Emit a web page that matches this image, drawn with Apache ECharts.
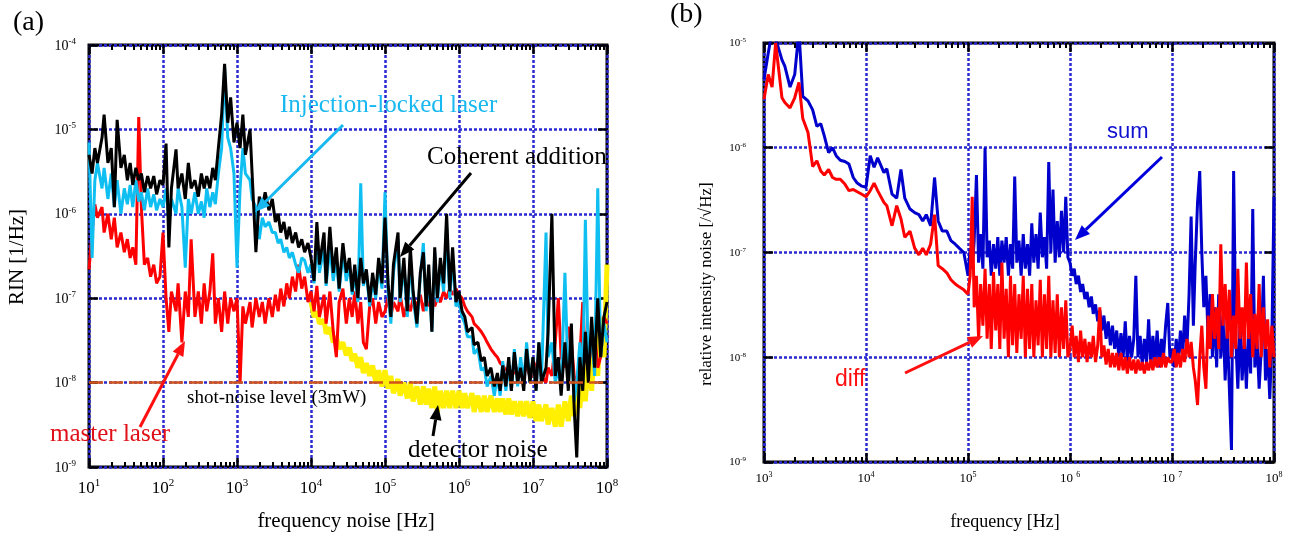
<!DOCTYPE html>
<html>
<head>
<meta charset="utf-8">
<title>RIN spectra</title>
<script src="https://cdn.jsdelivr.net/npm/echarts@6/dist/echarts.min.js"></script>
<style>
  html, body { margin: 0; padding: 0; background: #fff; }
  #chart { width: 1292px; height: 535px; }
</style>
</head>
<body>
<div id="chart"></div>
<script>
// ---- panel (a) : RIN, one decade per row ----
const freqA = [
  10, 11, 12, 13, 15, 16, 18, 20, 22, 24, 27, 30, 33, 36, 39, 43, 47, 51, 56, 62, 68, 75, 82, 91,
  100, 110, 120, 130, 150, 160, 180, 200, 220, 240, 270, 300, 330, 360, 390, 430, 470, 510, 560, 620, 680, 750, 820, 910,
  1e3, 1.1e3, 1.2e3, 1.3e3, 1.5e3, 1.6e3, 1.8e3, 2e3, 2.2e3, 2.4e3, 2.7e3, 3e3, 3.3e3, 3.6e3, 3.9e3, 4.3e3, 4.7e3, 5.1e3, 5.6e3, 6.2e3, 6.8e3, 7.5e3, 8.2e3, 9.1e3,
  1e4, 1.1e4, 1.2e4, 1.3e4, 1.5e4, 1.6e4, 1.8e4, 2e4, 2.2e4, 2.4e4, 2.7e4, 3e4, 3.3e4, 3.6e4, 3.9e4, 4.3e4, 4.7e4, 5.1e4, 5.6e4, 6.2e4, 6.8e4, 7.5e4, 8.2e4, 9.1e4,
  1e5, 1.1e5, 1.2e5, 1.3e5, 1.5e5, 1.6e5, 1.8e5, 2e5, 2.2e5, 2.4e5, 2.7e5, 3e5, 3.3e5, 3.6e5, 3.9e5, 4.3e5, 4.7e5, 5.1e5, 5.6e5, 6.2e5, 6.8e5, 7.5e5, 8.2e5, 9.1e5,
  1e6, 1.1e6, 1.2e6, 1.3e6, 1.5e6, 1.6e6, 1.8e6, 2e6, 2.2e6, 2.4e6, 2.7e6, 3e6, 3.3e6, 3.6e6, 3.9e6, 4.3e6, 4.7e6, 5.1e6, 5.6e6, 6.2e6, 6.8e6, 7.5e6, 8.2e6, 9.1e6,
  1e7, 1.1e7, 1.2e7, 1.3e7, 1.5e7, 1.6e7, 1.8e7, 2e7, 2.2e7, 2.4e7, 2.7e7, 3e7, 3.3e7, 3.6e7, 3.9e7, 4.3e7, 4.7e7, 5.1e7, 5.6e7, 6.2e7, 6.8e7, 7.5e7, 8.2e7, 9.1e7,
  1e8
];
const coherent = [
  5e-6, 3e-6, 6e-6, 4e-6, 8e-6, 1.5e-5, 4e-6, 6e-6, 1.2e-6, 1.3e-5, 3.5e-6, 5e-6, 2.5e-6, 4e-6, 2.2e-6, 3.5e-6, 2.5e-6, 3e-6, 1.8e-6, 2.8e-6, 2e-6, 2.8e-6, 1.7e-6, 2.5e-6,
  2.2e-6, 6.8e-6, 4e-7, 2e-6, 5.8e-6, 2e-6, 3e-6, 1.5e-6, 4e-6, 2e-6, 2.5e-6, 1.6e-6, 3e-6, 2e-6, 2.8e-6, 2e-6, 3.5e-6, 2.5e-6, 6e-6, 1.5e-5, 6e-5, 1.2e-5, 2.4e-5, 7e-6,
  1.2e-5, 6e-6, 1.5e-5, 5e-6, 1e-5, 3e-6, 3.5e-7, 1.6e-6, 1.2e-6, 1.8e-6, 1.1e-6, 1.5e-6, 8e-7, 1e-6, 6e-7, 8e-7, 5e-7, 7e-7, 4.5e-7, 6e-7, 4e-7, 5e-7, 3.5e-7, 4.5e-7,
  3e-7, 1.6e-7, 8e-7, 2.5e-7, 6e-7, 1.5e-7, 7e-7, 2e-7, 4e-7, 1.3e-7, 4.5e-7, 2e-7, 3e-7, 1.2e-7, 2.5e-7, 1e-7, 3e-7, 1.5e-7, 2.2e-7, 9e-8, 2e-7, 1.1e-7, 3e-7, 1.5e-7,
  9e-7, 1.5e-7, 6e-8, 2.5e-7, 6e-7, 1e-7, 3e-7, 7e-8, 4e-7, 1.2e-7, 5e-8, 2e-7, 3.5e-7, 8e-8, 2.5e-7, 4e-8, 4e-7, 1e-7, 3e-7, 1.5e-7, 1e-6, 1.2e-7, 4e-7, 9e-8,
  1.2e-7, 7e-8, 6e-8, 4e-8, 4.5e-8, 2.8e-8, 3e-8, 1.8e-8, 2e-8, 1.2e-8, 1.5e-8, 9e-9, 1.3e-8, 8e-9, 1.6e-8, 9e-9, 2e-8, 8e-9, 2.3e-8, 1e-8, 1.5e-8, 8e-9, 2.5e-8, 1e-8,
  2e-8, 8e-9, 3e-8, 1e-8, 1.5e-8, 4e-8, 1e-6, 1.2e-8, 2e-8, 7e-9, 3e-8, 8e-9, 5e-8, 5e-9, 1.3e-9, 2e-8, 8e-9, 4e-8, 1e-8, 6e-8, 1.5e-8, 1e-7, 2e-8, 6e-8,
  9e-8
];
const injection = [
  7e-6, 3e-7, 2.5e-6, 4e-6, 2e-6, 3.5e-6, 1.5e-6, 3e-6, 1.2e-6, 2.5e-6, 1e-6, 2e-6, 1.3e-6, 2.2e-6, 1.2e-6, 2.5e-6, 1.4e-6, 1.8e-6, 1.1e-6, 2e-6, 1.2e-6, 1.7e-6, 1.1e-6, 1.5e-6,
  1.2e-6, 2e-6, 8e-7, 1.5e-6, 1e-6, 2e-6, 1.2e-6, 2.3e-7, 1.5e-6, 1e-6, 1.8e-6, 1e-6, 1.4e-6, 9e-7, 2e-6, 1.2e-6, 1.8e-6, 1.3e-6, 3e-6, 6e-6, 5.5e-5, 8e-6, 6e-6, 3e-6,
  2.3e-7, 2e-6, 6e-6, 3e-6, 2.5e-6, 1.5e-6, 1.2e-6, 5e-7, 9e-7, 7e-7, 8e-7, 6e-7, 6e-7, 4.5e-7, 5e-7, 3.5e-7, 4e-7, 3e-7, 3.5e-7, 2.5e-7, 2e-7, 3e-7, 2.8e-7, 2e-7,
  2.5e-7, 1.5e-7, 5e-7, 2e-7, 4e-7, 1.4e-7, 4e-7, 1.6e-7, 3e-7, 1.2e-7, 3.5e-7, 1.6e-7, 2.5e-7, 1.1e-7, 2e-7, 9e-8, 2.3e-6, 1.4e-7, 2e-7, 8e-8, 1.6e-7, 1e-7, 2.5e-7, 1.3e-7,
  1.8e-6, 1.2e-7, 5e-8, 2e-7, 5e-7, 9e-8, 2.5e-7, 6e-8, 3e-7, 1e-7, 4.5e-8, 1.8e-7, 4.5e-7, 7e-8, 2e-7, 4e-8, 3.5e-7, 9e-8, 2.5e-7, 1.2e-7, 7e-7, 1e-7, 3e-7, 8e-8,
  9e-8, 6e-8, 5e-8, 3.5e-8, 3.5e-8, 2.2e-8, 2.5e-8, 1.4e-8, 1.5e-8, 9e-9, 1.2e-8, 7e-9, 1.2e-8, 7e-9, 1.8e-8, 8e-9, 1.6e-8, 8e-9, 2.5e-8, 9e-9, 2e-8, 1e-8, 3e-8, 1e-8,
  2e-8, 8e-9, 3e-8, 1e-8, 6e-7, 2e-8, 3e-8, 1e-8, 1.5e-8, 8e-9, 2e-7, 1e-8, 2.5e-8, 6e-9, 1e-8, 3e-8, 1e-8, 8.5e-7, 1.5e-8, 4e-8, 1.2e-8, 2e-6, 2e-8, 5e-8,
  3e-8
];
const master = [
  2.2e-7, 6e-7, 1.3e-6, 9e-7, 1.2e-6, 6e-7, 1e-6, 5e-7, 9e-7, 4e-7, 6e-7, 3.5e-7, 5e-7, 3e-7, 4e-7, 2.5e-7, 1.4e-5, 1.2e-6, 2.5e-7, 3e-7, 1.8e-7, 2.5e-7, 1.5e-7, 1.8e-7,
  6e-7, 1e-7, 4e-8, 1.2e-7, 7e-8, 1.5e-7, 3e-8, 1.2e-7, 6e-8, 5e-7, 6e-8, 1.2e-7, 5e-8, 1.5e-7, 7e-8, 1.2e-7, 3.4e-7, 5e-8, 1e-7, 4e-8, 1.2e-7, 5e-8, 1e-7, 7e-8,
  1e-7, 1e-8, 8e-8, 5e-8, 9e-8, 4.5e-8, 1e-7, 6e-8, 9e-8, 5e-8, 1e-7, 6e-8, 1.1e-7, 7e-8, 1.3e-7, 8e-8, 1.5e-7, 1e-7, 1.8e-7, 1.2e-7, 2.5e-7, 1.3e-7, 1.8e-7, 9e-8,
  1.2e-7, 7e-8, 1.4e-7, 6e-8, 1.1e-7, 5e-8, 1.2e-7, 4e-8, 2e-8, 9e-8, 1.3e-7, 5e-8, 1e-7, 6e-8, 1.2e-7, 5e-8, 9e-8, 3e-8, 2.5e-8, 8e-8, 1e-7, 5e-8, 9e-8, 6e-8,
  7e-8, 1e-7, 6e-8, 9e-8, 7e-8, 1.1e-7, 6e-8, 9e-8, 7e-8, 1e-7, 8e-8, 1.1e-7, 7e-8, 1e-7, 8e-8, 1.1e-7, 8e-8, 1e-7, 9e-8, 1.2e-7, 1e-7, 1.3e-7, 1.1e-7, 1.3e-7,
  1.1e-7, 1e-7, 8e-8, 7e-8, 6e-8, 5e-8, 4.5e-8, 4e-8, 3.5e-8, 3e-8, 2.5e-8, 2.2e-8, 2e-8, 1.7e-8, 1.6e-8, 1.4e-8, 1.5e-8, 1.3e-8, 1.3e-8, 1.5e-8, 1.2e-8, 1.4e-8, 1.5e-8, 1.2e-8,
  1.2e-8, 1.6e-8, 2e-8, 1.2e-8, 1e-8, 1.5e-8, 1.2e-8, 3e-8, 1e-7, 2e-8, 1.5e-8, 4.6e-8, 3e-8, 1.2e-8, 1e-8, 2e-8, 9e-8, 2e-8, 1.5e-8, 3e-8, 4e-8, 1.5e-8, 2e-8, 6e-8,
  5e-8
];
// detector noise starts at 10 kHz (freqA index 72)
const detector = [
  9e-8, 6e-8, 7e-8, 5e-8, 5.5e-8, 3.8e-8, 4.5e-8, 3e-8, 3.5e-8, 2.5e-8, 3e-8, 2.1e-8, 2.6e-8, 1.8e-8, 2.2e-8, 1.5e-8, 2e-8, 1.3e-8, 1.7e-8, 1.2e-8, 1.6e-8, 1e-8, 1.4e-8, 9e-9,
  1.4e-8, 8.5e-9, 1.2e-8, 7.5e-9, 1.1e-8, 7e-9, 1e-8, 6.5e-9, 1e-8, 6e-9, 9e-9, 5.5e-9, 9e-9, 5.5e-9, 8.5e-9, 5e-9, 9e-9, 4.5e-9, 8e-9, 5e-9, 8e-9, 5e-9, 8e-9, 5e-9,
  8e-9, 5e-9, 7.5e-9, 5e-9, 7.5e-9, 4.5e-9, 7e-9, 4.5e-9, 7e-9, 4.5e-9, 7e-9, 4.5e-9, 6.5e-9, 4.5e-9, 6.5e-9, 4.2e-9, 6.5e-9, 4.2e-9, 6e-9, 4e-9, 6e-9, 4e-9, 6e-9, 3.8e-9,
  6e-9, 3.5e-9, 5.5e-9, 3.5e-9, 5.5e-9, 3.2e-9, 5e-9, 3e-9, 5.5e-9, 3e-9, 6e-9, 3.5e-9, 7e-9, 4e-9, 9e-9, 5e-9, 1.5e-8, 6e-9, 2e-8, 8e-9, 3e-8, 1.2e-8, 6e-8, 2e-8,
  2.5e-7
];
const shotNoise = [[10, 1e-8], [1e8, 1e-8]];

// ---- panel (b) : relative intensity noise ----
const freqB = [
  1e3, 1.1e3, 1.2e3, 1.3e3, 1.5e3, 1.6e3, 1.8e3, 2e3, 2.2e3, 2.4e3, 2.7e3, 3e3, 3.3e3, 3.6e3, 3.9e3, 4.3e3, 4.7e3, 5.1e3, 5.6e3, 6.2e3, 6.8e3, 7.5e3, 8.2e3, 9.1e3,
  1e4, 1.1e4, 1.2e4, 1.3e4, 1.5e4, 1.6e4, 1.8e4, 2e4, 2.2e4, 2.4e4, 2.7e4, 3e4, 3.3e4, 3.6e4, 3.9e4, 4.3e4, 4.7e4, 5.1e4, 5.6e4, 6.2e4, 6.8e4, 7.5e4, 8.2e4, 9.1e4,
  1e5, 1.05e5, 1.1e5, 1.15e5, 1.21e5, 1.27e5, 1.33e5, 1.4e5, 1.47e5, 1.54e5, 1.62e5, 1.69e5,
  1.78e5, 1.87e5, 1.96e5, 2.05e5, 2.15e5, 2.26e5, 2.37e5, 2.49e5, 2.61e5, 2.74e5, 2.87e5, 3.01e5,
  3.16e5, 3.32e5, 3.48e5, 3.65e5, 3.83e5, 4.02e5, 4.22e5, 4.42e5, 4.64e5, 4.87e5, 5.11e5, 5.36e5,
  5.62e5, 5.9e5, 6.19e5, 6.49e5, 6.81e5, 7.15e5, 7.5e5, 7.87e5, 8.25e5, 8.66e5, 9.09e5, 9.53e5,
  1e6, 1.05e6, 1.1e6, 1.15e6, 1.21e6, 1.27e6, 1.33e6, 1.4e6, 1.47e6, 1.54e6, 1.62e6, 1.69e6,
  1.78e6, 1.87e6, 1.96e6, 2.05e6, 2.15e6, 2.26e6, 2.37e6, 2.49e6, 2.61e6, 2.74e6, 2.87e6, 3.01e6,
  3.16e6, 3.32e6, 3.48e6, 3.65e6, 3.83e6, 4.02e6, 4.22e6, 4.42e6, 4.64e6, 4.87e6, 5.11e6, 5.36e6,
  5.62e6, 5.9e6, 6.19e6, 6.49e6, 6.81e6, 7.15e6, 7.5e6, 7.87e6, 8.25e6, 8.66e6, 9.09e6, 9.53e6,
  1e7, 1.05e7, 1.1e7, 1.15e7, 1.21e7, 1.27e7, 1.33e7, 1.4e7, 1.47e7, 1.54e7, 1.62e7, 1.69e7,
  1.78e7, 1.87e7, 1.96e7, 2.05e7, 2.15e7, 2.26e7, 2.37e7, 2.49e7, 2.61e7, 2.74e7, 2.87e7, 3.01e7,
  3.16e7, 3.32e7, 3.48e7, 3.65e7, 3.83e7, 4.02e7, 4.22e7, 4.42e7, 4.64e7, 4.87e7, 5.11e7, 5.36e7,
  5.62e7, 5.9e7, 6.19e7, 6.49e7, 6.81e7, 7.15e7, 7.5e7, 7.87e7, 8.25e7, 8.66e7, 9.09e7, 9.53e7,
  1e8
];
const sum = [
  4.5e-6, 8e-6, 1.3e-5, 1.1e-5, 6.9e-6, 6e-6, 3.8e-6, 5e-6, 1.3e-5, 3.1e-6, 2.8e-6, 2.3e-6, 1.6e-6, 1.7e-6, 1.3e-6, 9e-7, 1e-6, 8.4e-7, 7.6e-7, 7.4e-7, 7e-7, 5.2e-7, 4.6e-7, 4.3e-7,
  4.2e-7, 8.4e-7, 6.5e-7, 8e-7, 5.8e-7, 6.3e-7, 3.6e-7, 3.3e-7, 6.2e-7, 3.3e-7, 2.6e-7, 2.4e-7, 2.3e-7, 2e-7, 2.3e-7, 1.8e-7, 5.2e-7, 2e-7, 1.6e-7, 1.6e-7, 1.3e-7, 1.2e-7, 1.1e-7, 1e-7,
  6e-8, 1.1e-7, 7e-8, 1.3e-7, 5.5e-7, 8e-8, 1.5e-7, 7e-8, 1e-6, 9e-8, 1.3e-7, 6e-8,
  1.2e-7, 7e-8, 1.4e-7, 6e-8, 1.3e-7, 8e-8, 1.4e-7, 6e-8, 1.2e-7, 7e-8, 5.3e-7, 8e-8,
  1.3e-7, 6e-8, 1.5e-7, 7e-8, 1.2e-7, 6e-8, 1.9e-7, 8e-8, 1.5e-7, 7e-8, 2.4e-7, 9e-8,
  1.4e-7, 7e-8, 7.3e-7, 1e-7, 4e-7, 8e-8, 2e-7, 9e-8, 2.5e-7, 1e-7, 3.4e-7, 9e-8,
  8e-8, 6e-8, 7e-8, 5e-8, 6e-8, 4.2e-8, 5e-8, 3.6e-8, 4.2e-8, 3e-8, 3.8e-8, 2.6e-8,
  3.2e-8, 2.2e-8, 2.8e-8, 1.8e-8, 2.5e-8, 1.5e-8, 2.2e-8, 1.3e-8, 2e-8, 1.2e-8, 1.8e-8, 1e-8,
  1.7e-8, 1e-8, 2.2e-8, 9e-9, 1.6e-8, 1e-8, 1.5e-8, 6e-8, 1e-8, 1.6e-8, 8.5e-9, 1.5e-8,
  9e-9, 2.3e-8, 8e-9, 1.6e-8, 9e-9, 1.8e-8, 8e-9, 1.5e-8, 1e-8, 2e-8, 3.3e-8, 1e-8,
  1.2e-8, 8e-9, 1.5e-8, 9e-9, 1.8e-8, 1e-8, 2.5e-8, 1.2e-8, 4e-8, 2.2e-7, 2e-8, 8e-8,
  3e-7, 6e-7, 1e-7, 3e-8, 6e-8, 1.5e-8, 4e-8, 1e-8, 3e-8, 8e-9, 4e-8, 1e-8,
  2.5e-8, 6e-9, 2e-8, 5e-9, 1.3e-9, 6e-7, 1.5e-8, 5e-9, 2e-8, 6e-9, 1.5e-8, 5e-9,
  1.8e-8, 7e-9, 2.6e-7, 8e-9, 1.5e-8, 5e-9, 1.2e-8, 6e-8, 6e-9, 1.2e-8, 4e-9, 1.5e-8,
  3.4e-7
];
const diff = [
  2.9e-6, 5e-6, 3.8e-6, 1e-5, 3e-6, 2.7e-6, 2.4e-6, 3e-6, 4.2e-6, 1.9e-6, 1.4e-6, 6.6e-7, 7.5e-7, 6e-7, 5.5e-7, 6.2e-7, 5.2e-7, 5e-7, 5e-7, 4.5e-7, 3.9e-7, 4e-7, 3.8e-7, 3.6e-7,
  3.4e-7, 3.9e-7, 4.6e-7, 3.9e-7, 3e-7, 2.8e-7, 1.8e-7, 2.8e-7, 2.1e-7, 1.4e-7, 1.6e-7, 1.1e-7, 9.5e-8, 1.1e-7, 9.5e-8, 1.2e-7, 2.3e-7, 7.5e-8, 7e-8, 6.4e-8, 5.5e-8, 5e-8, 4.7e-8, 4.4e-8,
  4e-8, 6e-8, 3.4e-7, 3e-8, 6e-8, 1.5e-8, 5e-8, 2e-8, 7e-8, 1.5e-8, 5e-8, 1.2e-8,
  6.5e-8, 1.8e-8, 5e-8, 1.2e-8, 8e-8, 1.5e-8, 4.5e-8, 1e-8, 6e-8, 1.3e-8, 5e-8, 1.1e-8,
  4e-8, 1.5e-8, 6e-8, 1e-8, 4.5e-8, 1.2e-8, 5e-8, 1e-8, 3.5e-8, 1.3e-8, 5.5e-8, 1e-8,
  4e-8, 1.2e-8, 6e-8, 1e-8, 3.5e-8, 1.1e-8, 4e-8, 1e-8, 3e-8, 1.2e-8, 3.5e-8, 1e-8,
  1.2e-8, 2e-8, 1e-8, 1.6e-8, 9e-9, 1.8e-8, 1e-8, 1.5e-8, 9e-9, 1.4e-8, 1e-8, 1.6e-8,
  9e-9, 1.3e-8, 3e-8, 1e-8, 1.3e-8, 8.5e-9, 1.2e-8, 8e-9, 1.1e-8, 8e-9, 1.1e-8, 7.5e-9,
  1.1e-8, 7.5e-9, 1e-8, 7e-9, 1e-8, 7.5e-9, 9.5e-9, 7e-9, 9.5e-9, 7.5e-9, 9e-9, 7e-9,
  9e-9, 7.5e-9, 9.5e-9, 7.5e-9, 1e-8, 8e-9, 1e-8, 8e-9, 1.1e-8, 8e-9, 1e-8, 9e-9,
  9e-9, 1.2e-8, 8e-9, 1.1e-8, 8e-9, 1.2e-8, 9e-9, 1.5e-8, 1e-8, 1.4e-8, 8e-9, 6e-9,
  3.5e-9, 1e-8, 2e-8, 8e-9, 5e-9, 2.5e-8, 1.2e-8, 4e-8, 1.5e-8, 3e-8, 1.2e-8, 1.2e-7,
  2e-8, 5e-8, 1.5e-8, 4.4e-8, 1e-8, 2.5e-8, 1.2e-8, 7e-8, 1.5e-8, 3e-8, 1.2e-8, 8e-8,
  1.5e-8, 4e-8, 1e-8, 2.6e-8, 1.2e-8, 5e-8, 1e-8, 3e-8, 1.2e-8, 2.3e-8, 8e-9, 2e-8,
  1e-8
];

const serif = '"Liberation Serif", "Times New Roman", serif';
const sans = '"Liberation Sans", Arial, sans-serif';
const gridBlue = '#2a2ad2';

function pairs(freq, vals) {
  return vals.map((v, i) => [freq[i], v]);
}

function minorTicks(lo, hi) {
  const out = [];
  for (let e = lo; e < hi; e++) {
    for (let m = 2; m <= 9; m++) out.push(m * Math.pow(10, e));
  }
  return out;
}

// "10" with a raised exponent
function powRich(big, small, lift) {
  return {
    b: { fontSize: big, fontFamily: serif, color: '#000', verticalAlign: 'bottom' },
    e: { fontSize: small, fontFamily: serif, color: '#000', verticalAlign: 'bottom', padding: [0, 0, lift, 0] }
  };
}
function powFmt(spaced) {
  return function (v) {
    const e = Math.round(Math.log10(v));
    const gap = spaced && (e === 6 || e === 7) ? ' ' : '';
    return '{b|10' + gap + '}{e|' + e + '}';
  };
}

const majorTick = { show: true, inside: true, length: 9, lineStyle: { color: '#000', width: 2.5 } };
const dotted = { show: true, lineStyle: { color: gridBlue, width: 2.5, type: [3, 2] } };

function xAxes(grid, min, max, rich, fmt, margin) {
  const minors = minorTicks(Math.round(Math.log10(min)), Math.round(Math.log10(max)));
  const base = { gridIndex: grid, type: 'log', logBase: 10, min: min, max: max, axisLine: { show: false } };
  const minorTick = { show: true, inside: true, length: 5, customValues: minors, lineStyle: { color: '#000', width: 2 } };
  return [
    Object.assign({}, base, { position: 'bottom', axisTick: majorTick, splitLine: dotted,
      axisLabel: { show: true, margin: margin, formatter: fmt, rich: rich, showMinLabel: true, showMaxLabel: true } }),
    Object.assign({}, base, { position: 'bottom', axisTick: minorTick, splitLine: { show: false }, axisLabel: { show: false } }),
    Object.assign({}, base, { position: 'top', axisTick: majorTick, splitLine: { show: false }, axisLabel: { show: false } }),
    Object.assign({}, base, { position: 'top', axisTick: minorTick, splitLine: { show: false }, axisLabel: { show: false } })
  ];
}

function yAxes(grid, min, max, rich, margin) {
  const base = { gridIndex: grid, type: 'log', logBase: 10, min: min, max: max, axisLine: { show: false }, axisTick: majorTick };
  return [
    Object.assign({}, base, { position: 'left', splitLine: dotted,
      axisLabel: { show: true, margin: margin, formatter: powFmt(false), rich: rich, showMinLabel: true, showMaxLabel: true } }),
    Object.assign({}, base, { position: 'right', splitLine: { show: false }, axisLabel: { show: false } })
  ];
}

function trace(name, x, y, data, color, width) {
  return {
    name: name, type: 'line', xAxisIndex: x, yAxisIndex: y, data: data,
    symbol: 'none', showSymbol: false, lineStyle: { color: color, width: width || 3 }, z: 3
  };
}

function text(str, x, y, size, color, family, align, rot) {
  return {
    type: 'text', x: x, y: y, rotation: rot || 0, z: 100,
    style: { text: str, fontSize: size, fontFamily: family, fill: color,
      align: align || 'left', verticalAlign: 'middle', textAlign: align || 'left', textVerticalAlign: 'middle' }
  };
}

function arrow(x1, y1, x2, y2, color, w) {
  const a = Math.atan2(y2 - y1, x2 - x1);
  const L = 15, H = 6;
  const bx = x2 - L * Math.cos(a), by = y2 - L * Math.sin(a);
  return [
    { type: 'line', z: 100, shape: { x1: x1, y1: y1, x2: bx, y2: by }, style: { stroke: color, lineWidth: w } },
    { type: 'polygon', z: 100, shape: { points: [[x2, y2],
      [bx + H * Math.sin(a), by - H * Math.cos(a)], [bx - H * Math.sin(a), by + H * Math.cos(a)]] },
      style: { fill: color } }
  ];
}

const chart = echarts.init(document.getElementById('chart'));

const option = {
  animation: false,
  backgroundColor: '#fff',
  grid: [
    { left: 89, top: 45, width: 518, height: 422, show: true, borderColor: '#000', borderWidth: 3, outerBoundsMode: 'none' },
    { left: 764, top: 43, width: 510, height: 419, show: true, borderColor: '#000', borderWidth: 3, outerBoundsMode: 'none' }
  ],
  xAxis: [].concat(
    xAxes(0, 10, 1e8, powRich(17, 11, 8), powFmt(false), 11),
    xAxes(1, 1e3, 1e8, powRich(13, 8, 6), powFmt(true), 9)
  ),
  yAxis: [].concat(
    yAxes(0, 1e-9, 1e-4, powRich(14, 9, 7), 13),
    yAxes(1, 1e-9, 1e-5, powRich(11, 7, 5), 18)
  ),
  series: [
    trace('detector noise', 0, 0, pairs(freqA.slice(72), detector), '#ffef00', 5),
    trace('master laser', 0, 0, pairs(freqA, master), '#ff0000'),
    trace('Injection-locked laser', 0, 0, pairs(freqA, injection), '#10bff2'),
    trace('Coherent addition', 0, 0, pairs(freqA, coherent), '#000000'),
    {
      name: 'shot-noise level', type: 'line', xAxisIndex: 0, yAxisIndex: 0, data: shotNoise,
      symbol: 'none', lineStyle: { color: '#d0541c', width: 2.5, type: [14, 6] }, z: 4
    },
    trace('sum', 4, 2, pairs(freqB, sum), '#0000cc'),
    trace('diff', 4, 2, pairs(freqB, diff), '#ff0000')
  ],
  graphic: [].concat(
    [
      text('(a)', 13, 23, 28, '#000', serif),
      text('(b)', 670, 15, 28, '#000', serif),
      text('RIN [1/Hz]', 17, 257, 21, '#000', serif, 'center', Math.PI / 2),
      text('frequency noise [Hz]', 346, 521, 21, '#000', serif, 'center'),
      text('relative intensity noise [/\u221AHz]', 707, 284, 17, '#000', serif, 'center', Math.PI / 2),
      text('frequency [Hz]', 1005, 522, 18, '#000', serif, 'center'),
      text('Injection-locked laser', 280, 105, 25, '#18b8f0', serif),
      text('Coherent addition', 427, 157, 25, '#000', serif),
      text('master laser', 50, 434, 25, '#e01018', serif),
      text('shot-noise level (3mW)', 187, 398, 19, '#000', serif),
      text('detector noise', 408, 450, 25, '#000', serif),
      text('sum', 1107, 132, 22, '#1010d0', sans),
      text('diff', 835, 380, 23, '#ff1010', sans)
    ],
    arrow(343, 125, 255, 212, '#18b8f0', 3),
    arrow(471, 173, 400, 257, '#000', 3),
    arrow(140, 427, 185, 341, '#ff1010', 3),
    arrow(433, 436, 438, 405, '#000', 3),
    arrow(1162, 157, 1075, 240, '#0000dd', 3),
    arrow(905, 373, 983, 336, '#ff1010', 3)
  )
};

chart.setOption(option);
</script>
</body>
</html>
